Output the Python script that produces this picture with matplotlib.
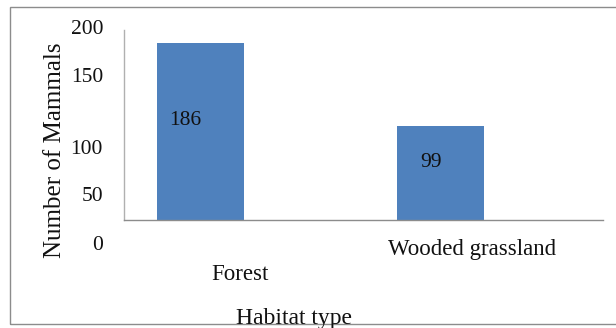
import matplotlib
matplotlib.use("Agg")
import matplotlib.pyplot as plt
from matplotlib.patches import Rectangle

categories = ["Forest", "Wooded grassland"]
counts = [186, 99]
ytick_values = [0, 50, 100, 150, 200]
ytick_labels = ["0", "50", "100", "150", "200"]

plt.rcParams["font.family"] = ["Liberation Serif", "DejaVu Serif"]

W, H = 616, 328
fig = plt.figure(figsize=(W / 100, H / 100), dpi=100)
ax = fig.add_axes([124 / W, 1 - 220 / H, 479 / W, 190 / H])

bar_color = "#4F81BD"
xs = list(range(len(categories)))
ax.bar(xs, counts, width=0.3625, color=bar_color, zorder=2)
ax.set_xlim(-76 / 240, 1 + 163 / 240)
ax.set_ylim(0, 200)

for s in ["top", "right"]:
    ax.spines[s].set_visible(False)
ax.spines["left"].set_color("#b0b0b0")
ax.spines["bottom"].set_color("#8c8c8c")
ax.spines["left"].set_linewidth(1.0)
ax.spines["bottom"].set_linewidth(1.0)
ax.set_xticks([])
ax.set_yticks([])

# y tick labels (offset as in reference rendering)
tick_dy = {0: -25, 50: -24, 100: -25, 150: 0, 200: 0}
for v, lab in zip(ytick_values, ytick_labels):
    ax.annotate(lab, xy=(0, v), xycoords=ax.get_yaxis_transform(),
                xytext=(-21, tick_dy[v]), textcoords="offset pixels",
                ha="right", va="center", fontsize=15.5, color="#111111")

# category labels
cat_off = [(40, -55), (32, -30)]
for x, lab, (dx, dy) in zip(xs, categories, cat_off):
    ax.annotate(lab, xy=(x, 0), xycoords=ax.get_xaxis_transform(),
                xytext=(dx, dy), textcoords="offset pixels",
                ha="center", va="center", fontsize=16.5, color="#111111")

# value labels
val_off = [(-15, 11), (-9, 10)]
for x, v, (dx, dy) in zip(xs, counts, val_off):
    ax.annotate(str(v), xy=(x, v / 2), xycoords="data",
                xytext=(dx, dy), textcoords="offset pixels",
                ha="center", va="center", fontsize=15.5, color="#111111", zorder=3)

fig.text(55 / W, 1 - 150 / H, "Number of Mammals", rotation=90,
         ha="center", va="center", fontsize=18, color="#111111")
fig.text(294 / W, 1 - 324 / H, "Habitat type", ha="center", va="baseline",
         fontsize=17, color="#111111")

fig.patches.append(Rectangle((10 / W, 1 - 324 / H), 1.2, (324 - 7) / H,
                             transform=fig.transFigure, fill=False,
                             edgecolor="#8c8c8c", linewidth=1.0, zorder=0))

fig.savefig("out.png", dpi=100)
